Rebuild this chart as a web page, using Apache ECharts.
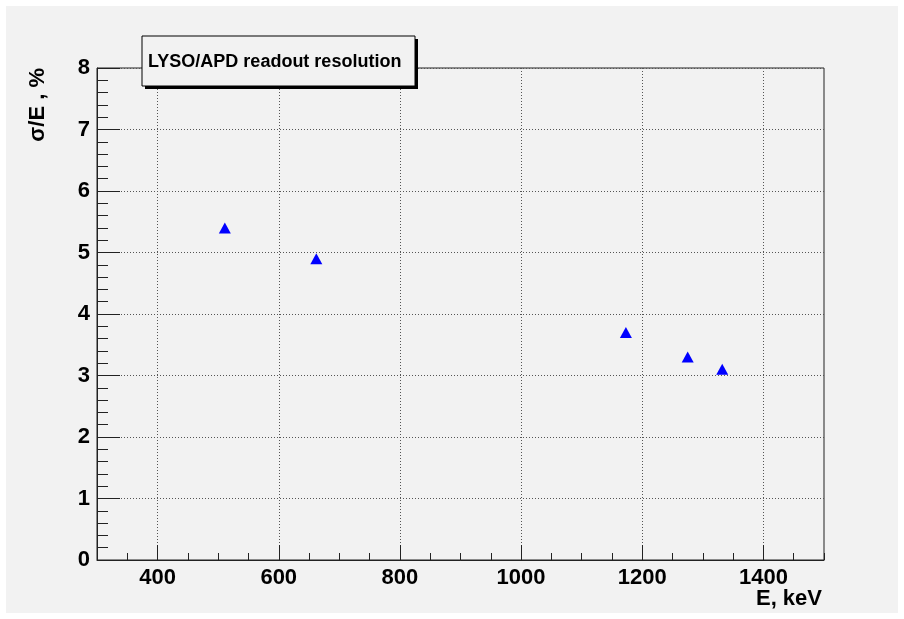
<!DOCTYPE html>
<html>
<head>
<meta charset="utf-8">
<title>LYSO/APD readout resolution</title>
<script src="https://cdn.jsdelivr.net/npm/echarts@6/dist/echarts.min.js"></script>
<style>
  html, body { margin: 0; padding: 0; background: #ffffff; }
  #chart { width: 904px; height: 619px; }
</style>
</head>
<body>
<div id="chart"></div>
<script>
// Energy resolution of the LYSO crystal read out by an APD
const energyKeV = [511, 662, 1173, 1275, 1332];
const resolutionPct = [5.4, 4.9, 3.7, 3.3, 3.1];

// Axis tick labels
const xMajorTicks = [400, 600, 800, 1000, 1200, 1400];
const xRange = [300, 1500];
const yRange = [0, 8];

const FONT = '"Liberation Sans", Arial, Helvetica, sans-serif';
const AXIS_COLOR = '#222';
const GRID_COLOR = '#555';

const chart = echarts.init(document.getElementById('chart'), null, { renderer: 'canvas' });

chart.setOption({
  backgroundColor: '#ffffff',
  animation: false,
  grid: {
    left: 97, top: 68, width: 727, height: 492,
    show: true,
    backgroundColor: 'transparent',
    borderColor: AXIS_COLOR,
    borderWidth: 1
  },
  xAxis: [
    {
      type: 'value',
      min: xRange[0], max: xRange[1],
      position: 'bottom',
      axisLine: { show: true, onZero: false, lineStyle: { color: AXIS_COLOR, width: 1 } },
      axisTick: { show: true, inside: true, length: 15, customValues: xMajorTicks,
                  lineStyle: { color: AXIS_COLOR } },
      axisLabel: { show: true, customValues: xMajorTicks, margin: 7,
                   formatter: v => String(v),
                   fontFamily: FONT, fontWeight: 'bold', fontSize: 22, color: '#000' },
      splitLine: { show: true, lineStyle: { color: GRID_COLOR, type: [1, 2], width: 1 } }
    },
    {
      // minor ticks every 50 keV
      type: 'value',
      min: xRange[0], max: xRange[1], interval: 50,
      position: 'bottom',
      axisLine: { show: false, onZero: false },
      axisTick: { show: true, inside: true, length: 7, lineStyle: { color: AXIS_COLOR } },
      axisLabel: { show: false },
      splitLine: { show: false }
    }
  ],
  yAxis: {
    type: 'value',
    min: yRange[0], max: yRange[1], interval: 1,
    axisLine: { show: true, onZero: false, lineStyle: { color: AXIS_COLOR, width: 1 } },
    axisTick: { show: true, inside: true, length: 23, lineStyle: { color: AXIS_COLOR } },
    minorTick: { show: true, splitNumber: 5, length: 11, lineStyle: { color: AXIS_COLOR } },
    axisLabel: { margin: 7, fontFamily: FONT, fontWeight: 'bold', fontSize: 22, color: '#000' },
    splitLine: { show: true, lineStyle: { color: GRID_COLOR, type: [1, 2], width: 1 } }
  },
  series: [{
    type: 'scatter',
    xAxisIndex: 0,
    data: energyKeV.map((e, i) => [e, resolutionPct[i]]),
    symbol: 'triangle',
    symbolSize: [12, 11],
    itemStyle: { color: '#0000ff', opacity: 1 },
    z: 5
  }],
  graphic: [
    { type: 'rect', z: -10, silent: true,
      shape: { x: 6, y: 6, width: 892, height: 607 },
      style: { fill: '#f2f2f2' } },
    // title box with drop shadow
    { type: 'rect', z: 20, silent: true,
      shape: { x: 145, y: 39, width: 273, height: 50 },
      style: { fill: '#000' } },
    { type: 'rect', z: 21, silent: true,
      shape: { x: 142, y: 36, width: 273, height: 50 },
      style: { fill: '#f2f2f2', stroke: '#000', lineWidth: 1 } },
    { type: 'text', z: 22, silent: true,
      x: 148, y: 62,
      style: { text: 'LYSO/APD readout resolution', fill: '#000',
               font: 'bold 18px ' + FONT, textAlign: 'left', textVerticalAlign: 'middle' } },
    // axis titles
    { type: 'text', z: 22, silent: true,
      x: 38, y: 68, rotation: Math.PI / 2,
      style: { text: 'σ/E , %', fill: '#000',
               font: 'bold 22px ' + FONT, textAlign: 'right', textVerticalAlign: 'middle' } },
    { type: 'text', z: 22, silent: true,
      x: 822, y: 599,
      style: { text: 'E, keV', fill: '#000',
               font: 'bold 22px ' + FONT, textAlign: 'right', textVerticalAlign: 'middle' } }
  ]
});
</script>
</body>
</html>
